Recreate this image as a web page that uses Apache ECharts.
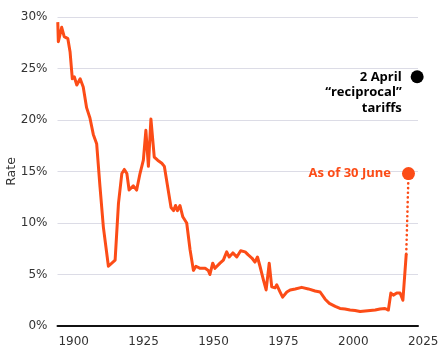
<!DOCTYPE html>
<html>
<head>
<meta charset="utf-8">
<script src="https://cdn.jsdelivr.net/npm/echarts@6/dist/echarts.min.js"></script>
<style>
html,body{margin:0;padding:0;background:#fff;}
#c{width:445px;height:359px;}
</style>
</head>
<body>
<div id="c"></div>
<script>
// Historical effective tariff rate (%), positions
const years = [1894.3,1894.5,1895.7,1896.6,1897.9,1898.7,1899.5,1900.2,1901.1,1902.3,1903.4,1904.6,1905.8,1907.0,1908.2,1909.4,1910.6,1912.4,1914.8,1916.0,1917.2,1918.1,1919.0,1919.8,1921.3,1922.5,1923.7,1924.9,1925.8,1926.7,1927.6,1928.8,1930.0,1931.5,1932.4,1933.6,1934.8,1935.7,1936.4,1937.1,1938.0,1939.0,1940.4,1941.6,1942.8,1943.7,1945.2,1947.0,1948.1,1948.7,1949.7,1950.5,1952.3,1953.5,1954.7,1955.6,1956.9,1958.3,1959.7,1961.3,1962.4,1963.7,1964.8,1965.7,1966.6,1967.8,1968.8,1969.9,1970.8,1972.0,1972.6,1973.8,1974.7,1976.2,1977.4,1979.2,1981.5,1983.9,1986.3,1988.1,1989.9,1991.4,1993.5,1995.2,1997.0,1998.8,2000.6,2002.4,2004.2,2006.0,2007.8,2009.5,2011.3,2012.5,2013.4,2014.3,2015.5,2016.7,2017.7,2018.9];
const rates = [29.5,27.6,29.0,28.1,27.9,26.6,24.0,24.2,23.4,24.0,23.2,21.2,20.2,18.6,17.7,13.5,9.6,5.8,6.4,11.9,14.8,15.2,14.8,13.2,13.6,13.2,14.8,16.1,19.0,15.5,20.1,16.4,16.1,15.8,15.5,13.5,11.5,11.2,11.7,11.2,11.7,10.6,10.0,7.4,5.4,5.8,5.6,5.6,5.4,5.0,6.1,5.6,6.1,6.4,7.2,6.7,7.1,6.7,7.3,7.2,6.9,6.6,6.2,6.7,5.8,4.5,3.5,6.1,3.8,3.7,4.0,3.3,2.8,3.3,3.5,3.6,3.75,3.6,3.4,3.3,2.6,2.2,1.9,1.7,1.65,1.55,1.5,1.4,1.45,1.5,1.55,1.65,1.7,1.55,3.2,3.0,3.2,3.2,2.5,7.0];
const juneYear = 2019.7, juneRate = 14.8;
const aprilYear = 2022.8, aprilRate = 24.2;
const yTicks = [0,5,10,15,20,25,30];
const xTickLabels = [1900,1925,1950,1975,2000,2025];

const ORANGE = '#fc4c17';
const FONT = 'DejaVu Sans';
const lastIdx = years.length - 1;
const chart = echarts.init(document.getElementById('c'), null, {renderer:'canvas'});
chart.setOption({
  animation:false,
  backgroundColor:'#fff',
  grid:[
    {left:57.5, right:27, top:17, bottom:33, containLabel:false, outerBoundsMode:'none'},
    {left:57.5, right:21.8, top:17, bottom:33, containLabel:false, outerBoundsMode:'none'}
  ],
  xAxis:[
    {type:'value', gridIndex:0, min:1894.2, max:2023.1,
     axisLine:{show:true, onZero:false, lineStyle:{color:'#111', width:2}},
     axisTick:{show:false}, axisLabel:{show:false}, splitLine:{show:false}},
    {type:'value', gridIndex:1, min:1894.2, max:2025,
     axisLine:{show:false}, axisTick:{show:false}, splitLine:{show:false},
     axisLabel:{show:true, customValues:xTickLabels, margin:10, color:'#333', fontSize:12, fontFamily:FONT,
       formatter:v=>String(v)}}
  ],
  yAxis:[
    {type:'value', gridIndex:0, min:yTicks[0], max:yTicks[yTicks.length-1], interval:5,
     name:'Rate', nameLocation:'middle', nameGap:39, nameMoveOverlap:false,
     nameTextStyle:{color:'#333', fontSize:12.5, fontFamily:FONT},
     axisLine:{show:false}, axisTick:{show:false},
     axisLabel:{margin:10, color:'#333', fontSize:12, fontFamily:FONT, formatter:v=>v+'%'},
     splitLine:{show:true, lineStyle:{color:'#dcdce6', width:1}}},
    {type:'value', gridIndex:1, min:0, max:30, show:false}
  ],
  series:[
    {type:'line', xAxisIndex:0, yAxisIndex:0,
     data: years.map((y,i)=>[y,rates[i]]),
     showSymbol:false, symbol:'none',
     lineStyle:{color:ORANGE, width:3, join:'round'}, z:3},
    {type:'line', xAxisIndex:0, yAxisIndex:0,
     data:[[years[lastIdx], rates[lastIdx]],[juneYear, juneRate]],
     showSymbol:false, symbol:'none',
     lineStyle:{color:ORANGE, width:2.6, type:[0.1,4.6], cap:'round'}, z:2},
    {type:'scatter', xAxisIndex:0, yAxisIndex:0, clip:false,
     data:[[juneYear, juneRate]], symbolSize:13,
     itemStyle:{color:ORANGE, opacity:1},
     label:{show:true, position:'left', distance:11, formatter:'As of 30 June',
       color:ORANGE, fontWeight:'bold', fontSize:13, fontFamily:'Open Sans'}, z:4},
    {type:'scatter', xAxisIndex:0, yAxisIndex:0, clip:false,
     data:[[aprilYear, aprilRate]], symbolSize:13,
     itemStyle:{color:'#000', opacity:1},
     label:{show:true, position:[-9,-1], align:'right', verticalAlign:'top',
       formatter:'2 April\n\u201creciprocal\u201d\ntariffs',
       color:'#000', fontWeight:'bold', fontSize:13, lineHeight:15.5, fontFamily:'Open Sans'}, z:4}
  ]
});
</script>
</body>
</html>
